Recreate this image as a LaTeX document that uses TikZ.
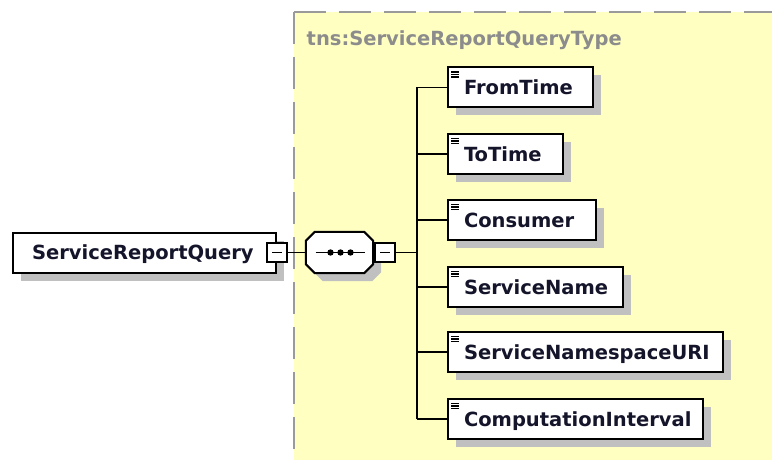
\documentclass[tikz,border=0pt]{standalone}
\usepackage{fontspec}
\setmainfont{DejaVu Sans}
\usetikzlibrary{shadows}
\definecolor{schemafill}{HTML}{FFFFC2}
\definecolor{schemaedge}{HTML}{9A9A9A}
\definecolor{shadowgray}{HTML}{C0C0C0}
\definecolor{typegray}{HTML}{8C8C8C}
\definecolor{labelink}{HTML}{14142A}
\tikzset{
  boxshadow/.style={drop shadow={shadow xshift=8pt, shadow yshift=-8pt, fill=shadowgray, opacity=1}},
  labelfont/.style={font=\fontsize{19.5}{22}\selectfont\bfseries},
  elembox/.style={draw=black, line width=2pt, fill=white, boxshadow, labelfont, text=labelink,
    minimum height=40pt, inner xsep=16pt, inner ysep=0pt, align=left,
    text height=14pt, text depth=0pt, anchor=west},
  leafelem/.style={elembox,
    path picture={
      \foreach \dy in {4.5,7,9.5}
        \draw[line width=1.2pt] ([shift={(3pt,-\dy pt)}]path picture bounding box.north west) -- ++(8pt,0);
    }},
  minusbox/.style={draw=black, line width=1.6pt, fill=white, minimum width=20pt, minimum height=19pt, inner sep=0pt,
    path picture={\draw[line width=1.6pt] ([xshift=-5pt]path picture bounding box.center) -- ([xshift=5pt]path picture bounding box.center);}},
  seqanchor/.style={rectangle, minimum width=67pt, minimum height=41pt, inner sep=0pt},
  wire/.style={draw=black, line width=1.8pt},
  dashedge/.style={draw=schemaedge, line width=2pt, dash pattern=on 32pt off 13pt}
}
% octagon outline of the sequence compositor, around the given node
\newcommand\seqoutline[1]{%
  ([xshift=9pt]#1.north west) -- ([xshift=-9pt]#1.north east) -- ([yshift=-9pt]#1.north east)
  -- ([yshift=9pt]#1.south east) -- ([xshift=-9pt]#1.south east) -- ([xshift=9pt]#1.south west)
  -- ([yshift=9pt]#1.south west) -- ([yshift=-9pt]#1.north west) -- cycle}
\begin{document}
\begin{tikzpicture}[x=1pt,y=-1pt]
  \useasboundingbox (0,0) rectangle (772,460);

  % complex type area
  \fill[schemafill] (294,12) rectangle (772,460);
  \draw[dashedge] (294,12) -- (294,460);
  \draw[dashedge] (294,12) -- (772,12);
  \node[anchor=base west, labelfont, text=typegray, inner sep=0pt] (typename) at (306.5,46) {tns:ServiceReportQueryType};

  % root element
  \node[elembox, inner xsep=19pt, text width=225pt] (root) at (12,252.5) {ServiceReportQuery};
  \node[minusbox] (rootminus) at (root.east) {};

  % sequence compositor
  \node[seqanchor] (seq) at (339.5,252.5) {};
  \fill[shadowgray, transform canvas={xshift=8pt, yshift=-8pt}] \seqoutline{seq};
  \filldraw[fill=white, draw=black, line width=2pt] \seqoutline{seq};
  \draw[line width=1.8pt] ([xshift=-24pt]seq.center) -- ([xshift=25pt]seq.center);
  \foreach \dx in {-9,1,11}
    \fill ([xshift=\dx pt]seq.center) circle (3.2pt);
  \node[minusbox] (seqminus) at (385,252.5) {};

  \draw[wire] (rootminus.east) -- (seq.west);

  % child elements
  \node[leafelem, text width=113pt] (fromtime) at (447,87.5) {FromTime};
  \node[leafelem, text width=83pt]  (totime)   at (447,154) {ToTime};
  \node[leafelem, text width=116pt] (consumer) at (447,220) {Consumer};
  \node[leafelem, text width=143pt] (svcname)  at (447,287) {ServiceName};
  \node[leafelem, text width=243pt] (svcns)    at (447,352) {ServiceNamespaceURI};
  \node[leafelem, text width=223pt] (interval) at (447,419) {ComputationInterval};

  % sequence bus
  \coordinate (bus) at (417,252.5);
  \draw[wire] (seqminus.east) -- (bus);
  \draw[wire] (bus |- fromtime.west) -- (bus |- interval.west);
  \foreach \child in {fromtime,totime,consumer,svcname,svcns,interval}
    \draw[wire] (bus |- \child.west) -- (\child.west);
\end{tikzpicture}
\end{document}
